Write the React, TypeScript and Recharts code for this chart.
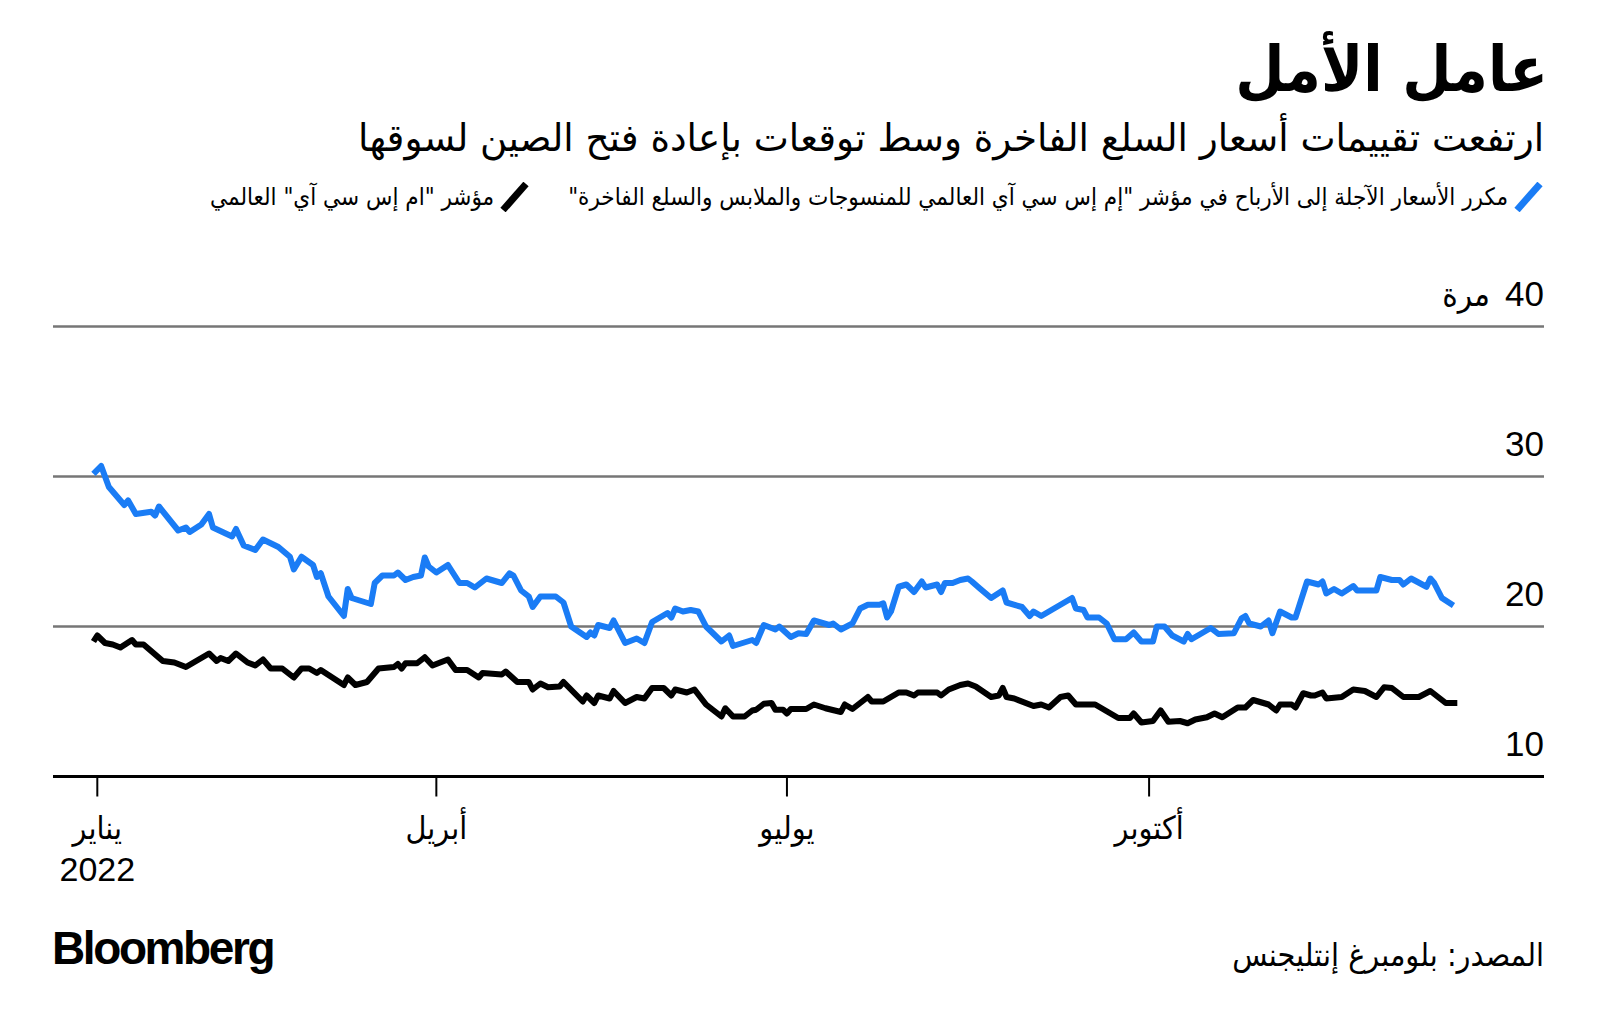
import { LineChart, Line, XAxis, YAxis, CartesianGrid } from 'recharts';

// days since 1 Jan 2022, forward P/E of MSCI World Textiles, Apparel & Luxury Goods
const luxuryPe: [number, number][] = [
  [1, 30.17], [3, 30.7], [5, 29.3], [9, 28.1], [10, 28.4], [12, 27.5], [16, 27.65], [17, 27.4],
  [18, 28.0], [23, 26.4], [25, 26.6], [26, 26.3], [29, 26.8], [31, 27.5], [32, 26.6], [37, 26.0],
  [38, 26.5], [40, 25.4], [43, 25.1], [45, 25.8], [49, 25.3], [52, 24.65], [53, 23.8], [55, 24.65],
  [58, 24.1], [59, 23.3], [60, 23.55], [62, 22.0], [66, 20.7], [67, 22.5], [68, 21.9], [73, 21.5],
  [74, 22.9], [76, 23.4], [79, 23.4], [80, 23.6], [82, 23.1], [84, 23.3], [86, 23.4], [87, 24.6],
  [88, 24.0], [90, 23.6], [93, 24.1], [96, 22.9], [98, 22.9], [100, 22.6], [101, 22.8], [103, 23.2],
  [107, 22.9], [109, 23.55], [110, 23.4], [112, 22.4], [114, 22.0], [115, 21.3], [117, 22.0], [121, 22.0],
  [123, 21.6], [125, 20.0], [129, 19.3], [130, 19.6], [131, 19.4], [132, 20.1], [135, 19.9], [136, 20.4],
  [139, 18.9], [142, 19.2], [144, 18.9], [146, 20.3], [148, 20.6], [150, 20.9], [151, 20.6], [152, 21.2],
  [154, 21.0], [156, 21.1], [158, 21.0], [160, 20.0], [164, 19.0], [166, 19.4], [167, 18.7], [172, 19.1],
  [173, 18.9], [175, 20.1], [178, 19.8], [179, 20.0], [182, 19.3], [184, 19.55], [186, 19.5], [188, 20.4],
  [192, 20.1], [193, 20.2], [195, 19.8], [198, 20.2], [200, 21.2], [202, 21.45], [205, 21.45], [206, 21.55],
  [207, 20.6], [208, 21.0], [210, 22.65], [212, 22.8], [214, 22.3], [216, 23.0], [217, 22.6], [220, 22.8],
  [221, 22.3], [222, 22.9], [224, 22.9], [226, 23.1], [228, 23.2], [229, 23.0], [231, 22.55], [234, 21.9],
  [237, 22.4], [238, 21.6], [242, 21.3], [244, 20.7], [245, 21.0], [247, 20.7], [253, 21.6], [255, 21.9],
  [256, 21.2], [258, 21.1], [259, 20.6], [262, 20.6], [264, 20.2], [266, 19.15], [269, 19.15], [271, 19.6],
  [273, 19.0], [276, 19.0], [277, 20.0], [279, 20.0], [281, 19.4], [284, 19.0], [285, 19.5], [286, 19.15],
  [291, 19.9], [293, 19.5], [297, 19.55], [299, 20.55], [300, 20.7], [301, 20.2], [304, 20.0], [306, 20.4],
  [307, 19.55], [309, 21.0], [312, 20.6], [313, 20.6], [316, 23.0], [319, 22.8], [320, 23.0], [321, 22.2],
  [323, 22.5], [325, 22.2], [328, 22.7], [329, 22.4], [334, 22.4], [335, 23.3], [338, 23.1], [340, 23.1],
  [341, 22.8], [343, 23.2], [347, 22.65], [348, 23.2], [349, 22.9], [351, 21.9], [354, 21.4],
];

// MSCI World index forward P/E
const worldPe: [number, number][] = [
  [1, 19.0], [2, 19.4], [4, 18.9], [6, 18.8], [8, 18.6], [11, 19.1], [12, 18.8], [14, 18.8],
  [19, 17.7], [22, 17.6], [25, 17.3], [31, 18.2], [33, 17.7], [34, 17.9], [36, 17.7], [38, 18.2],
  [41, 17.6], [43, 17.4], [45, 17.8], [47, 17.2], [50, 17.2], [53, 16.6], [55, 17.2], [57, 17.2],
  [59, 16.9], [60, 17.1], [66, 16.1], [67, 16.6], [69, 16.1], [72, 16.3], [75, 17.2], [79, 17.3],
  [80, 17.5], [81, 17.2], [82, 17.55], [85, 17.55], [87, 17.95], [89, 17.4], [93, 17.8], [95, 17.1],
  [98, 17.1], [101, 16.6], [102, 16.9], [107, 16.8], [108, 17.0], [111, 16.3], [114, 16.3], [115, 15.8],
  [117, 16.2], [119, 15.95], [122, 16.0], [123, 16.3], [128, 15.0], [129, 15.4], [131, 14.9], [132, 15.4],
  [135, 15.2], [136, 15.7], [139, 14.9], [142, 15.3], [144, 15.2], [146, 15.9], [149, 15.9], [151, 15.4],
  [152, 15.8], [155, 15.6], [157, 15.8], [160, 14.8], [164, 14.0], [165, 14.55], [167, 14.0], [170, 14.0],
  [172, 14.4], [173, 14.45], [175, 14.85], [177, 14.9], [178, 14.45], [180, 14.45], [181, 14.2], [182, 14.5],
  [186, 14.5], [188, 14.8], [191, 14.55], [195, 14.3], [196, 14.8], [198, 14.5], [202, 15.3], [203, 15.0],
  [206, 15.0], [210, 15.6], [212, 15.6], [214, 15.4], [215, 15.6], [220, 15.6], [221, 15.4], [223, 15.8],
  [226, 16.1], [228, 16.2], [230, 16.0], [234, 15.3], [236, 15.4], [237, 15.9], [238, 15.3], [240, 15.2],
  [245, 14.7], [247, 14.8], [249, 14.6], [252, 15.3], [254, 15.4], [256, 14.8], [259, 14.8], [261, 14.8],
  [267, 13.9], [270, 13.9], [271, 14.2], [273, 13.6], [276, 13.7], [278, 14.4], [280, 13.65], [283, 13.7],
  [285, 13.55], [287, 13.8], [290, 13.95], [292, 14.2], [294, 13.95], [298, 14.6], [300, 14.6], [302, 15.1],
  [306, 14.8], [308, 14.4], [309, 14.8], [312, 14.8], [313, 14.6], [315, 15.55], [317, 15.4], [318, 15.4],
  [320, 15.6], [321, 15.2], [325, 15.3], [328, 15.8], [331, 15.7], [334, 15.3], [336, 15.95], [338, 15.9],
  [341, 15.3], [345, 15.3], [348, 15.7], [352, 14.9], [355, 14.9],
];

const monthTicks = [2, 90, 181, 275];
const monthLabels = ['يناير', 'أبريل', 'يوليو', 'أكتوبر'];
const yTicks = [10, 20, 30, 40];
const yUnit = 'مرة';

const title = 'عامل الأمل';
const subtitle = 'ارتفعت تقييمات أسعار السلع الفاخرة وسط توقعات بإعادة فتح الصين لسوقها';
const luxuryName = 'مكرر الأسعار الآجلة إلى الأرباح في مؤشر "إم إس سي آي العالمي للمنسوجات والملابس والسلع الفاخرة"';
const worldName = 'مؤشر "ام إس سي آي" العالمي';
const source = 'المصدر: بلومبرغ إنتليجنس';

const BLUE = '#1a7cf5';
const GRID = '#767676';
const ARABIC = "'DejaVu Sans Condensed', 'DejaVu Sans', sans-serif";
const LATIN = "'Liberation Sans', 'DejaVu Sans', sans-serif";
const RIGHT_EDGE = 1544;

const toRows = (pts: [number, number][]) => pts.map(([day, value]) => ({ day, value }));

function MonthTick({ x, y, index }: any) {
  return (
    <g>
      <text x={x} y={y + 40} textAnchor="middle" fontSize={32} fontFamily={ARABIC} fill="#000">
        {monthLabels[index]}
      </text>
      {index === 0 && (
        <text x={x} y={y + 82} textAnchor="middle" fontSize={34} fontFamily={LATIN} fill="#000">
          2022
        </text>
      )}
    </g>
  );
}

function ValueTick({ y, payload, index }: any) {
  const top = index === yTicks.length - 1;
  return (
    <g>
      <text x={RIGHT_EDGE} y={y - 21} textAnchor="end" fontSize={35} fontFamily={LATIN} fill="#000">
        {payload.value}
      </text>
      {top && (
        <text x={RIGHT_EDGE - 54} y={y - 21} textAnchor="end" fontSize={33} fontFamily={ARABIC} fill="#000">
          {yUnit}
        </text>
      )}
    </g>
  );
}

function Slash({ color }: { color: string }) {
  return (
    <svg width={30} height={30} style={{ display: 'block' }}>
      <line x1={3} y1={28} x2={26} y2={2} stroke={color} strokeWidth={7} />
    </svg>
  );
}

export default function App() {
  return (
    <div
      style={{
        position: 'absolute',
        left: 0,
        top: 0,
        width: 1600,
        height: 1029,
        background: '#fff',
        overflow: 'hidden',
      }}
    >
      <div
        dir="rtl"
        style={{
          position: 'absolute',
          right: 52,
          top: 30,
          fontFamily: ARABIC,
          fontWeight: 'bold',
          fontSize: 63,
          lineHeight: '80px',
          whiteSpace: 'nowrap',
        }}
      >
        {title}
      </div>
      <div
        dir="rtl"
        style={{
          position: 'absolute',
          right: 56,
          top: 113,
          fontFamily: ARABIC,
          fontSize: 38,
          lineHeight: '50px',
          whiteSpace: 'nowrap',
          transform: 'scaleX(1.09)',
          transformOrigin: 'right center',
        }}
      >
        {subtitle}
      </div>
      <div
        dir="rtl"
        style={{
          position: 'absolute',
          right: 56,
          top: 182,
          display: 'flex',
          alignItems: 'center',
          fontFamily: ARABIC,
          fontSize: 24,
          whiteSpace: 'nowrap',
        }}
      >
        <Slash color={BLUE} />
        <span style={{ marginRight: 6 }}>{luxuryName}</span>
        <span style={{ width: 38 }} />
        <Slash color="#000" />
        <span style={{ marginRight: 6 }}>{worldName}</span>
      </div>

      <div style={{ position: 'absolute', left: 0, top: 0 }}>
        <LineChart
          width={1600}
          height={1029}
          margin={{ top: 326.5, right: 1600 - RIGHT_EDGE - 1, bottom: 222.5, left: 53 }}
        >
          <CartesianGrid vertical={false} stroke={GRID} strokeWidth={2.5} />
          <XAxis
            dataKey="day"
            type="number"
            domain={[-9.5, 377.5]}
            ticks={monthTicks}
            allowDataOverflow
            axisLine={{ stroke: '#000', strokeWidth: 3 }}
            tickLine={{ stroke: '#000', strokeWidth: 2 }}
            tickSize={20}
            tick={<MonthTick />}
            interval={0}
            height={30}
          />
          <YAxis
            orientation="right"
            width={1}
            type="number"
            domain={[10, 40]}
            ticks={yTicks}
            interval={0}
            axisLine={false}
            tickLine={false}
            tick={(props: any) => <ValueTick {...props} />}
          />
          <Line
            data={toRows(worldPe)}
            dataKey="value"
            stroke="#000"
            strokeWidth={6}
            dot={false}
            activeDot={false}
            strokeLinejoin="round"
            isAnimationActive={false}
          />
          <Line
            data={toRows(luxuryPe)}
            dataKey="value"
            stroke={BLUE}
            strokeWidth={6}
            dot={false}
            activeDot={false}
            strokeLinejoin="round"
            isAnimationActive={false}
          />
        </LineChart>
      </div>

      <div
        style={{
          position: 'absolute',
          left: 52,
          top: 922,
          fontFamily: LATIN,
          fontWeight: 'bold',
          fontSize: 46,
          letterSpacing: -2.4,
          lineHeight: '52px',
        }}
      >
        Bloomberg
      </div>
      <div
        dir="rtl"
        style={{
          position: 'absolute',
          right: 56,
          top: 933,
          fontFamily: ARABIC,
          fontSize: 32,
          lineHeight: '44px',
          whiteSpace: 'nowrap',
        }}
      >
        {source}
      </div>
    </div>
  );
}
